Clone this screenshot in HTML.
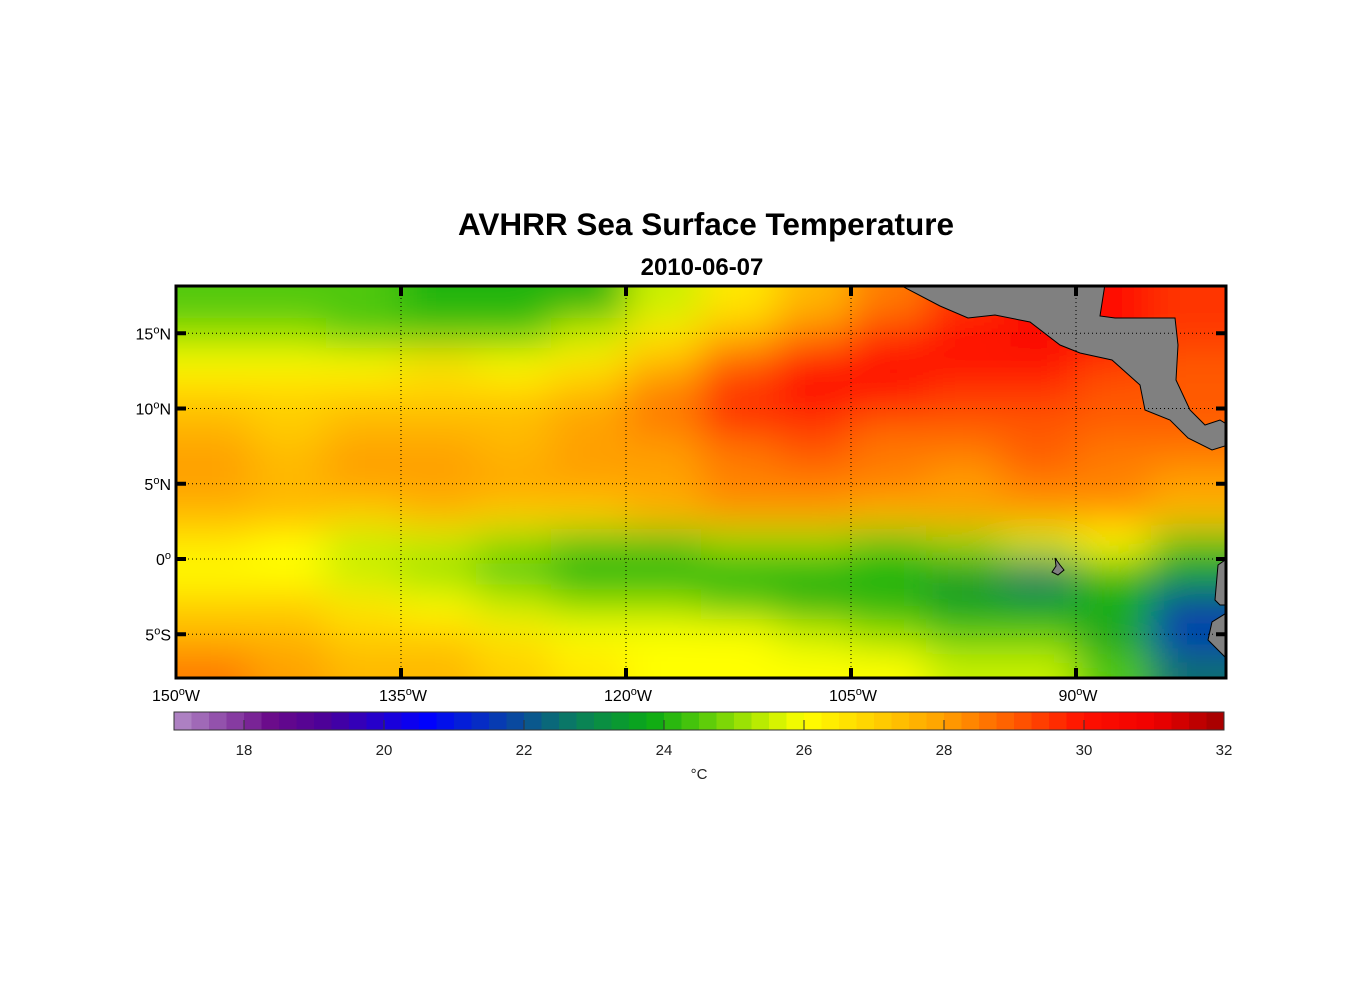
<!DOCTYPE html>
<html><head><meta charset="utf-8"><style>
body{margin:0;background:#fff;width:1356px;height:1000px;overflow:hidden}
svg text{font-family:"Liberation Sans",Arial,sans-serif}
</style></head><body>
<svg id="chart" width="1356" height="1000" viewBox="0 0 1356 1000">
<defs>
<clipPath id="plotclip"><rect x="176" y="286" width="1050" height="392"/></clipPath>
<filter id="smooth" x="-10%" y="-10%" width="120%" height="120%"><feGaussianBlur stdDeviation="20"/></filter>
</defs>
<text x="706" y="235" text-anchor="middle" font-size="31.5" font-weight="bold">AVHRR Sea Surface Temperature</text>
<text x="702" y="275" text-anchor="middle" font-size="24" font-weight="bold">2010-06-07</text>
<g id="heat" clip-path="url(#plotclip)"><g id="cells" filter="url(#smooth)"></g></g>
<g id="land" clip-path="url(#plotclip)">
<polygon fill="#808080" stroke="#000" stroke-width="1" points="898,284 940,306 968,318 995,315 1030,322 1060,345 1080,353 1112,360 1140,385 1145,410 1170,420 1188,438 1212,450 1228,445 1228,425 1220,420 1205,425 1190,410 1176,380 1178,345 1175,318 1115,318 1100,316 1105,284"/>
<polygon fill="#808080" stroke="#000" stroke-width="1" points="1228,558 1218,565 1215,600 1220,605 1228,605 1228,612 1212,622 1208,640 1218,650 1228,660"/>
<polygon fill="#808080" stroke="#000" stroke-width="1" points="1055,558 1060,565 1064,570 1058,575 1052,572 1056,566"/>
</g>
<g id="grid"></g>
<rect x="176" y="286" width="1050" height="392" fill="none" stroke="#000" stroke-width="3"/>
<g id="axes"></g>
<g id="cbar"></g>
<text x="699" y="779" text-anchor="middle" font-size="15" fill="#222">°C</text>
</svg>
<script>
const lonEdges = [-150,-145,-140,-135,-130,-125,-120,-115,-110,-105,-100,-95,-90,-85,-80];
const latEdges = [18,16,14,12,10,8,6,4,2,0,-2,-4,-6,-8];
const sst = [
[24.5,24.5,24.5,24,24,24,25.5,26.5,27.5,28.5,29.5,30,30,29.5],
[25,25,24.5,24.5,24.5,25.5,26.5,27.5,28.5,29.5,30,30.5,30,29.5],
[26,26,26,26.5,26,26.5,27.5,29,30,30,30,30,29.5,29],
[27,27,27,27,27,27.5,28.5,29.5,30,30,29.5,29.5,29,29],
[27.5,27,27.5,27.5,27.5,28,28.5,29.5,29.5,29,29,29,29,29],
[28,27.5,28,28,27.5,28,28,28.5,29,28.5,28.5,29,28.5,28.5],
[28,27.5,28,28,28,28,28,28.5,28.5,28.5,28,28.5,28.5,28],
[27.5,27.5,27,27.5,27,27,27.5,28,28,27.5,28,28,28,27.5],
[26.5,26,25.5,25.5,25,24.5,24.5,25,25,24.5,25,25.5,26,24.5],
[26,26,25.5,25,24.5,24,24,24,24,24,23.5,22.5,24,23.5],
[27,27,26.5,26,25.5,25,25,24.5,24,24,23.5,23.5,24,22],
[27.5,27.5,27,27,26.5,26,26,26,25.5,25,24.5,24.5,23.5,21.5],
[28.5,28,27.5,27.5,27,26.5,26,26,26,26,25.5,25.5,24.5,22.5]
];
const lonTicks = [-150,-135,-120,-105,-90];
const lonTickLabels = ["150","135","120","105","90"];
const latTicks = [15,10,5,0,-5];
const latTickLabels = ["15","10","5","0","5"];
const latTickHemi = ["N","N","N","",'S'];
const cbarTicks = [18,20,22,24,26,28,30,32];
const cbarRange = [17,32];

const X = lon => 176 + (lon + 150) * 15;
const Y = lat => 559 - lat * 15.05;
const CX = v => 174 + (v - 17) * 70;
const stops = [[17,[180,140,200]],[18.4,[106,10,138]],[19.2,[74,0,153]],[20.6,[0,0,255]],[22,[10,80,150]],[22.5,[10,112,112]],[23,[10,138,74]],[23.8,[10,170,20]],[24.5,[80,200,10]],[25.5,[200,240,0]],[26,[255,255,0]],[27,[255,208,0]],[28,[255,160,0]],[29,[255,90,0]],[30,[255,16,0]],[31,[240,0,0]],[32,[160,0,0]]];
function cmap(v){
  if(v<=stops[0][0]) return 'rgb('+stops[0][1]+')';
  for(let i=1;i<stops.length;i++){ if(v<=stops[i][0]){const a=stops[i-1],b=stops[i],t=(v-a[0])/(b[0]-a[0]);
    return 'rgb('+a[1].map((c,k)=>Math.round(c+(b[1][k]-c)*t)).join(',')+')';}}
  return 'rgb('+stops[stops.length-1][1]+')';
}
const NS='http://www.w3.org/2000/svg';
function mk(tag,attrs,parent){const e=document.createElementNS(NS,tag);for(const k in attrs)e.setAttribute(k,attrs[k]);parent.appendChild(e);return e;}
const cells=document.getElementById('cells');
for(let r=0;r<sst.length;r++)for(let c=0;c<sst[r].length;c++){
  let x0=X(lonEdges[c]),x1=X(lonEdges[c+1]),y0=Y(latEdges[r]),y1=Y(latEdges[r+1]);
  if(c===0)x0-=80; if(c===sst[r].length-1)x1+=80; if(r===0)y0-=80; if(r===sst.length-1)y1+=80;
  const e=mk('rect',{x:x0,y:y0,width:x1-x0+0.5,height:y1-y0+0.5,fill:cmap(sst[r][c])},cells);
  
  
}
const grid=document.getElementById('grid'),axes=document.getElementById('axes');
lonTicks.forEach((lon,i)=>{
  const x=X(lon);
  if(i>0){const l=mk('line',{x1:x,y1:286,x2:x,y2:678,stroke:'#000','stroke-width':1,'stroke-dasharray':'1 3'},grid);
    
    mk('line',{x1:x,y1:286,x2:x,y2:296,stroke:'#000','stroke-width':4},axes);
    mk('line',{x1:x,y1:668,x2:x,y2:678,stroke:'#000','stroke-width':4},axes);}
  const t=mk('text',{x:x+(i===0?0:2),y:701,'text-anchor':'middle','font-size':16},axes);
  t.innerHTML=lonTickLabels[i]+'<tspan dy="-6" font-size="11">o</tspan><tspan dy="6">W</tspan>';
  
});
latTicks.forEach((lat,i)=>{
  const y=Y(lat);
  const l=mk('line',{x1:176,y1:y,x2:1226,y2:y,stroke:'#000','stroke-width':1,'stroke-dasharray':'1 3'},grid);
  
  mk('line',{x1:176,y1:y,x2:186,y2:y,stroke:'#000','stroke-width':4},axes);
  mk('line',{x1:1216,y1:y,x2:1226,y2:y,stroke:'#000','stroke-width':4},axes);
  const t=mk('text',{x:171,y:y+6,'text-anchor':'end','font-size':16},axes);
  t.innerHTML=latTickLabels[i]+'<tspan dy="-6" font-size="11">o</tspan><tspan dy="6">'+latTickHemi[i]+'</tspan>';
  
});
const cb=document.getElementById('cbar');
for(let v=cbarRange[0];v<cbarRange[1];v+=0.25){
  const e=mk('rect',{x:CX(v),y:712,width:17.8,height:18,fill:cmap(v+0.125)},cb);
  
}
mk('rect',{x:174,y:712,width:1050,height:18,fill:'none',stroke:'#333','stroke-width':1},cb);
cbarTicks.forEach(v=>{
  const x=CX(v);
  mk('line',{x1:x,y1:720,x2:x,y2:730,stroke:'#333','stroke-width':1},cb);
  const t=mk('text',{x:x,y:755,'text-anchor':'middle','font-size':15,fill:'#222'},cb);
  t.textContent=v;
  
});
</script>
</body></html>
